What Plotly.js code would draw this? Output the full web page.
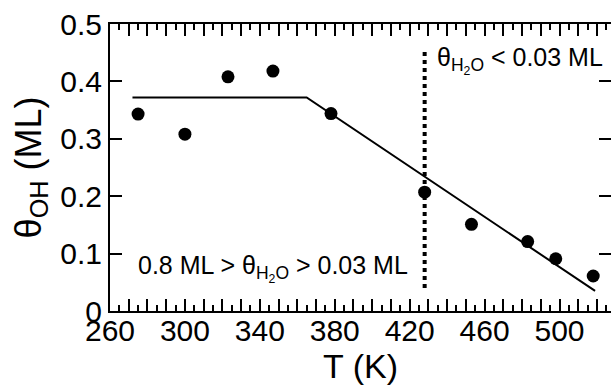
<!DOCTYPE html>
<html>
<head>
<meta charset="utf-8">
<script src="https://cdn.plot.ly/plotly-3.0.1.min.js"></script>
<style>
html,body{margin:0;padding:0;overflow:hidden;background:#fff;}
#chart{width:611px;height:385px;}
</style>
</head>
<body>
<div id="chart"></div>
<script>
// Measured data points
var temps = [275, 300, 323, 347, 378, 428, 453, 483, 498, 518];
var thetaOH = [0.343, 0.308, 0.408, 0.418, 0.344, 0.207, 0.151, 0.121, 0.091, 0.061];
// Fitted piecewise line
var fitT = [272, 365, 519];
var fitTheta = [0.372, 0.372, 0.035];
// Vertical divider
var dividerT = [428, 428];
var dividerY = [0.04, 0.458];
// Ticks (x ticks every 10 K, labelled every 40 K; minor every 5 K)
var xLabelledTicks = [260, 300, 340, 380, 420, 460, 500];
var xUnlabelledTicks = [270, 280, 290, 310, 320, 330, 350, 360, 370, 390, 400, 410, 430, 440, 450, 470, 480, 490, 510, 520];

var xAlias = {};
xUnlabelledTicks.forEach(function (v) { xAlias[String(v)] = ''; });

var FONT = '"Liberation Sans", Arial, Helvetica, sans-serif';

var traces = [
  {x: fitT, y: fitTheta, mode: 'lines', line: {color: '#000', width: 2}, hoverinfo: 'none', showlegend: false},
  {x: dividerT, y: dividerY, mode: 'lines', line: {color: '#000', width: 4, dash: 'dot'}, hoverinfo: 'none', showlegend: false},
  {x: temps, y: thetaOH, mode: 'markers', marker: {color: '#000', size: 13}, showlegend: false}
];

var layout = {
  width: 611, height: 385,
  margin: {l: 110, r: 0, t: 24, b: 74},
  font: {family: FONT, color: '#000'},
  showlegend: false,
  xaxis: {
    range: [260, 527.5], showgrid: false, zeroline: false,
    showline: true, linecolor: '#000', linewidth: 2, mirror: 'ticks',
    ticks: 'inside', ticklen: 12, tickwidth: 2, tickcolor: '#000',
    tickmode: 'linear', tick0: 260, dtick: 10, labelalias: xAlias,
    tickfont: {size: 30, family: FONT}, ticklabelstandoff: -8,
    minor: {dtick: 5, tick0: 260, ticks: 'inside', ticklen: 6, tickwidth: 2, tickcolor: '#000', showgrid: false},
    title: {text: 'T (K)', font: {size: 34, family: FONT}, standoff: 0}
  },
  yaxis: {
    range: [0, 0.5], showgrid: false, zeroline: false,
    showline: true, linecolor: '#000', linewidth: 2, mirror: 'ticks',
    ticks: 'inside', ticklen: 12, tickwidth: 2, tickcolor: '#000',
    tickmode: 'linear', tick0: 0, dtick: 0.1,
    tickfont: {size: 30, family: FONT},
    title: {text: 'θ<sub>OH</sub> (ML)', font: {size: 36, family: FONT}, standoff: 8}
  },
  annotations: [
    {x: 433.5, y: 0.437, xref: 'x', yref: 'y', xanchor: 'left', yanchor: 'middle',
     text: 'θ<sub>H<sub>2</sub>O</sub> < 0.03 ML', showarrow: false, font: {size: 25, family: FONT}},
    {x: 274, y: 0.074, xref: 'x', yref: 'y', xanchor: 'left', yanchor: 'middle',
     text: '0.8 ML > θ<sub>H<sub>2</sub>O</sub> > 0.03 ML', showarrow: false, font: {size: 25, family: FONT}}
  ]
};

Plotly.newPlot('chart', traces, layout, {staticPlot: true, displayModeBar: false});
</script>
</body>
</html>
